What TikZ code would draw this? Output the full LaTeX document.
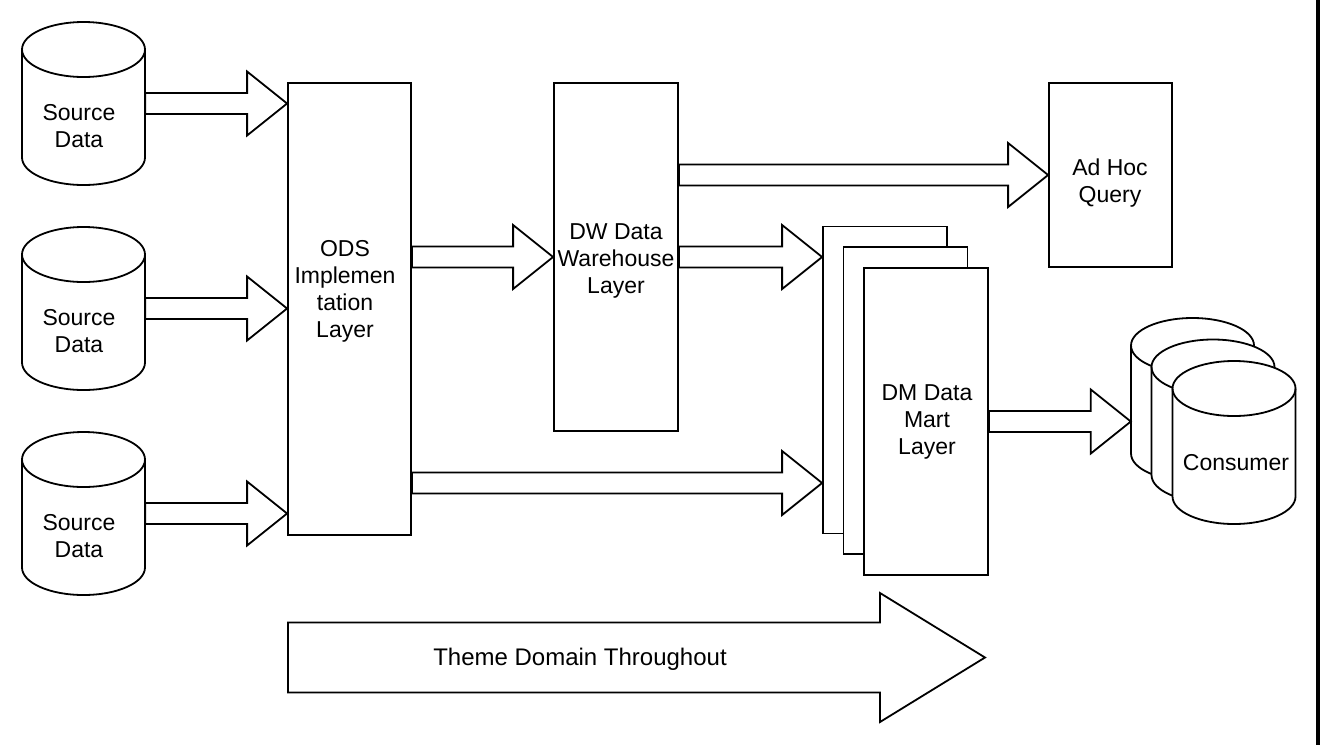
\documentclass[tikz,border=0pt]{standalone}
\usepackage{fontspec}
\setmainfont{Liberation Sans}
\usetikzlibrary{calc}

\tikzset{
  lw/.style={line width=1.8pt},
  txt/.style={align=center,inner sep=0pt,font=\fontsize{23}{27}\selectfont},
  layer/.style={draw,lw,fill=white,inner sep=0pt},
  pics/store/.style={code={
    \draw[lw,fill=white] (-61.5,27.5) arc[start angle=180,end angle=360,x radius=61.5,y radius=27.5]
      -- (61.5,135.5) arc[start angle=0,end angle=180,x radius=61.5,y radius=27.5] -- cycle;
    \draw[lw] (-61.5,27.5) arc[start angle=180,end angle=0,x radius=61.5,y radius=27.5];
    \node[inner sep=0pt,minimum width=123pt,minimum height=163pt] (-body) at (0,81.5) {};
    \node[txt] (-text) at (-4.5,104) {#1};
  }}
}

\newcommand{\blockarrow}[5]{%
  \draw[lw] let \p1=#4, \p2=#5 in
    (\x1,\y1+#1pt) -- (\x2-#3pt,\y1+#1pt) -- (\x2-#3pt,\y1+#2pt) -- (\x2,\y1)
    -- (\x2-#3pt,\y1-#2pt) -- (\x2-#3pt,\y1-#1pt) -- (\x1,\y1-#1pt) -- cycle;}
\newcommand{\fatarrow}[2]{\blockarrow{10.5}{32}{40}{#1}{#2}}

\begin{document}
\begin{tikzpicture}[x=1pt,y=-1pt]
  \useasboundingbox (0,0) rectangle (1321,745);
  \fill (1315.5,0) rectangle (1319.5,745);

  \foreach \i/\py in {1/22,2/227,3/432}
    \pic (src\i) at (83.5,\py) {store={Source\\Data}};

  \node[layer,minimum width=123pt,minimum height=452pt] (ods) at (349.5,309) {};
  \node[txt] (odstext) at (345,291) {ODS\\Implemen\\tation\\Layer};

  \node[layer,minimum width=124pt,minimum height=348pt] (dw) at (616,257) {};
  \node[txt] (dwtext) at (616,261) {DW Data\\Warehouse\\Layer};

  \node[layer,minimum width=123pt,minimum height=184pt] (adhoc) at (1110.5,175) {};
  \node[txt] (adhoctext) at (1110,183.5) {Ad Hoc\\Query};

  \foreach \i/\px/\py in {1/885/380,2/905.5/400.5,3/926/421.5}
    \node[layer,minimum width=124pt,minimum height=307pt] (dm\i) at (\px,\py) {};
  \node[txt] (dmtext) at (927,422) {DM Data\\Mart\\Layer};

  \foreach \i/\px/\py in {1/1192.5/318,2/1213/339.5,3/1234/361}
    \pic (cons\i) at (\px,\py) {store={}};
  \node[txt] (constext) at (1236,462.5) {Consumer};

  \foreach \i in {1,2,3}
    \fatarrow{(src\i-body.east)}{(ods.west |- src\i-body.east)}
  \coordinate (odslow) at ($(ods.east)+(0,174)$);
  \fatarrow{(ods.east |- dw.west)}{(dw.west)}
  \fatarrow{(dw.east |- adhoc.west)}{(adhoc.west)}
  \fatarrow{(dw.east)}{(dw.east -| dm1.west)}
  \fatarrow{(odslow)}{(odslow -| dm1.west)}
  \fatarrow{(dm3.east)}{(dm3.east -| cons1-body.west)}

  \coordinate (themein) at (288,657.5);
  \coordinate (themeout) at (985,657.5);
  \blockarrow{35}{64.5}{105}{(themein)}{(themeout)}
  \node[txt,font=\fontsize{24}{28}\selectfont] (themetext) at (580,659) {Theme Domain Throughout};
\end{tikzpicture}
\end{document}
